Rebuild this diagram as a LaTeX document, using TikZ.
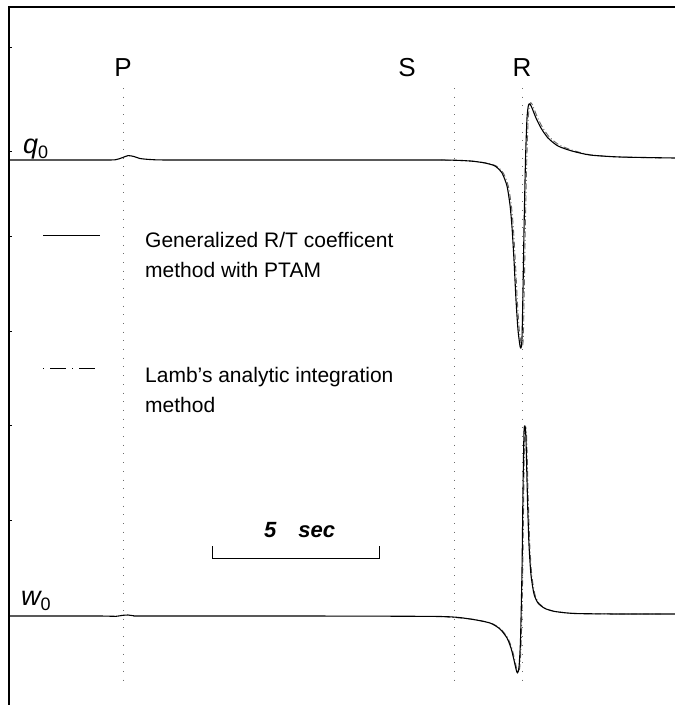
\documentclass[tikz,border=0pt]{standalone}
\usepackage{fontspec}
\setmainfont{Liberation Sans}
\begin{document}
\begin{tikzpicture}[x=1pt,y=-1pt,
  wave/.style={line width=1.1pt, line join=round},
  lamb/.style={line width=0.9pt, gray!80!black, dash pattern=on 1pt off 2.5pt on 6pt off 2.5pt},
  guide/.style={gray!85!black, line width=1pt, dash pattern=on 1pt off 7.7pt},
  frame/.style={line width=1.1pt},
  tick/.style={line width=0.8pt},
  lbl/.style={font=\fontsize{26}{26}\selectfont, inner sep=0},
  leg/.style={font=\fontsize{21}{26}\selectfont, anchor=base west, inner sep=0},
  legsolid/.style={line width=0.9pt},
  legdash/.style={line width=0.9pt, dash pattern=on 1pt off 6pt on 16pt off 6pt},
  trace/.style={anchor=base west, inner sep=0, font=\fontsize{27}{27}\selectfont}
]
\useasboundingbox (0,0) rectangle (675,705);

% frame and ticks
\draw[frame] (9,705) -- (9,7) -- (675,7);
\foreach \y in {47,151,236,331,425,520} \draw[tick] (9,\y) -- (12,\y);

% phase guides
\draw[guide] (123,88) -- (123,685);
\draw[guide] (454,88) -- (454,685);
\draw[guide] (522,88) -- (522,685);

\node[lbl] (P) at (123,68) {P};
\node[lbl] (S) at (407,68) {S};
\node[lbl] (R) at (522,68) {R};

% trace labels
\node[trace] (q) at (23,153) {\itshape q\upshape\raisebox{-5pt}{\fontsize{18}{18}\selectfont 0}};
\node[trace] (w) at (21,605) {\itshape w\upshape\raisebox{-5pt}{\fontsize{18}{18}\selectfont 0}};

% q0 Lamb
\draw[lamb, xshift=1.3pt] plot[smooth, tension=0.4] coordinates {
 (440,160) (470,161) (485,163) (495,166) (502,173) (507,186) (510,205) (512,227) (514,260) (516,300) (518,330) (520,345) (521,347) (522,338) (523,290) (524,230) (525.5,160) (527,118) (528.5,104) (530,103) (532,107) (536,117) (541,127) (548,137) (558,145) (572,150.5) (590,155) (620,157) (660,158)};
% q0 solid
\draw[wave] plot[smooth, tension=0.4] coordinates {
 (10,160) (60,160) (100,160) (115,159.8) (122,157.8) (128,155.6) (134,156.5) (140,158.5) (150,159.5) (170,160) (300,160) (440,160) (470,161) (485,163) (495,166) (502,173) (507,186) (510,205) (512,227) (514,260) (516,300) (518,330) (520,346) (521,348) (522,338) (523,290) (524,230) (525.5,160) (527,118) (528.5,105) (530,104) (532,108) (536,118) (541,128) (548,138) (558,146) (572,151) (590,155) (620,157) (675,158)};

% w0 Lamb
\draw[lamb, xshift=0.8pt] plot[smooth, tension=0.4] coordinates {
 (440,616.5) (470,619) (490,623) (500,629) (507,638) (511,648) (514,660) (516,669) (517.5,672) (519,667) (520.5,640) (522,570) (523,490) (524,433) (525,427) (526,441) (527.5,500) (529,545) (531,575) (534,594) (538,603) (545,608.5) (555,611.5) (575,613.5) (620,614) (660,614)};
% w0 solid
\draw[wave] plot[smooth, tension=0.4] coordinates {
 (10,616) (60,616) (100,616) (116,616.3) (122,615.4) (128,615) (134,615.8) (145,616) (300,616) (440,616.5) (470,619) (490,623) (500,629) (507,638) (511,648) (514,660) (516,669) (517.5,673) (519,667) (520.5,640) (522,570) (523,490) (524,432) (525,426) (526,440) (527.5,500) (529,545) (531,575) (534,594) (538,603) (545,608.5) (555,611.5) (575,613.5) (620,614) (675,614)};

% legend
\coordinate (l1a) at (43,235);
\coordinate (l1b) at (100,235);
\draw[legsolid] (l1a) -- (l1b);
\node[leg] (t1) at (145,247) {Generalized R/T coefficent};
\node[leg] (t2) at (145,277) {method with PTAM};
\coordinate (l2a) at (43,368);
\coordinate (l2b) at (100,368);
\draw[legdash] (l2a) -- (l2b);
\node[leg] (t3) at (145,382) {Lamb’s analytic integration};
\node[leg] (t4) at (145,412) {method};

% scale bar
\coordinate (sa) at (212,546);
\coordinate (sb) at (212,558);
\coordinate (sc) at (379,558);
\coordinate (sd) at (379,546);
\draw[line width=0.9pt] (sa) -- (sb) -- (sc) -- (sd);
\node[anchor=base west, inner sep=0, font=\fontsize{22}{22}\selectfont\bfseries\itshape] (scl) at (264,537) {5\hspace{22pt}sec};
\end{tikzpicture}
\end{document}
